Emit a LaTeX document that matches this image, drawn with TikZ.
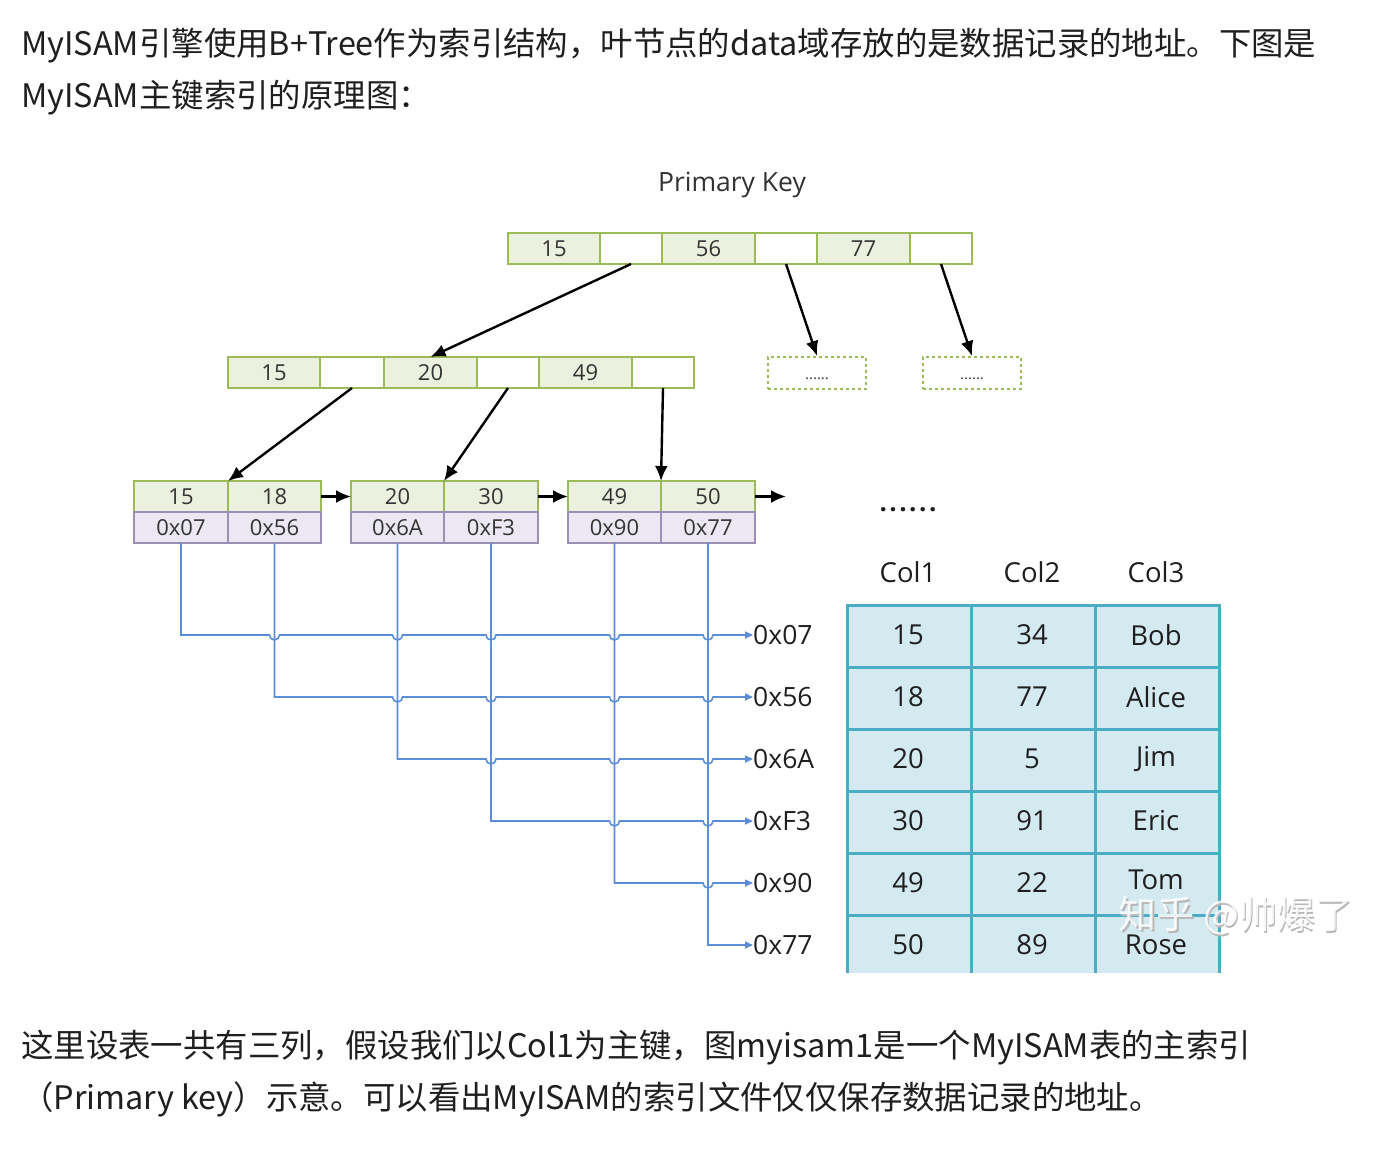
\documentclass[tikz,border=0pt]{standalone}
\usepackage{fontspec}
\newfontfamily\cjk{Noto Sans CJK SC}
\newfontfamily\lab{Open Sans}
\usetikzlibrary{arrows.meta}
\definecolor{gborder}{HTML}{9BBB59}
\definecolor{gfill}{HTML}{EBF1DE}
\definecolor{pborder}{HTML}{9C8FB5}
\definecolor{pfill}{HTML}{ECE8F3}
\definecolor{tblfill}{HTML}{D4EAF1}
\definecolor{tblline}{HTML}{4BACC6}
\definecolor{bline}{HTML}{5B8ED6}
\definecolor{txt}{HTML}{333333}
\definecolor{body}{HTML}{1F1F1F}
\tikzset{
  cellbase/.style={draw, line width=2pt, inner sep=0pt, outer sep=0pt, minimum height=31pt, text=txt, font=\lab\fontsize{22}{22}\selectfont},
  gkey/.style={cellbase, draw=gborder, fill=gfill},
  gptr/.style={cellbase, draw=gborder, fill=white},
  paddr/.style={cellbase, draw=pborder, fill=pfill},
  dbox/.style={draw=gborder, dashed, line width=2pt, inner sep=0pt, minimum width=98pt, minimum height=32pt, text=txt},
  tarrow/.style={line width=2.4pt, -{Latex[length=15pt,width=13pt]}},
  bl/.style={draw=bline, line width=1.6pt},
  blarrow/.style={bl, -{Triangle[length=8pt,width=7pt]}},
  addrlbl/.style={anchor=west, inner sep=0pt, text=body, font=\lab\fontsize{26.5}{26.5}\selectfont},
  tcell/.style={text=body, font=\lab\fontsize{27.5}{27.5}\selectfont},
  bodytext/.style={anchor=base west, inner sep=0pt, text=body, font=\cjk\fontsize{32.4}{32.4}\selectfont},
}
\begin{document}
\begin{tikzpicture}[x=1pt,y=-1pt]
\useasboundingbox (0,0) rectangle (1380,1151);
\fill[white] (0,0) rectangle (1380,1151);

% body text
\node[bodytext] (t1) at (21,55) {MyISAM引擎使用B+Tree作为索引结构，叶节点的data域存放的是数据记录的地址。下图是};
\node[bodytext] (t2) at (21,107) {MyISAM主键索引的原理图：};
\node[bodytext] (t3) at (21,1057) {这里设表一共有三列，假设我们以Col1为主键，图myisam1是一个MyISAM表的主索引};
\node[bodytext] (t4) at (21,1109) {（Primary key）示意。可以看出MyISAM的索引文件仅仅保存数据记录的地址。};

% title
\node[text=txt, font=\lab\fontsize{26.5}{26.5}\selectfont] (pk) at (732,185) {Primary Key};

% root
\node[gkey, minimum width=92pt] (r1) at (554,248.5) {15};
\node[gptr, minimum width=62pt] (r2) at (631,248.5) {};
\node[gkey, minimum width=93pt] (r3) at (708.5,248.5) {56};
\node[gptr, minimum width=62pt] (r4) at (786,248.5) {};
\node[gkey, minimum width=93pt] (r5) at (863.5,248.5) {77};
\node[gptr, minimum width=62pt] (r6) at (941,248.5) {};

% level 2
\node[gkey, minimum width=92pt] (l1) at (274,372.5) {15};
\node[gptr, minimum width=64pt] (l2) at (352,372.5) {};
\node[gkey, minimum width=93pt] (l3) at (430.5,372.5) {20};
\node[gptr, minimum width=62pt] (l4) at (508,372.5) {};
\node[gkey, minimum width=93pt] (l5) at (585.5,372.5) {49};
\node[gptr, minimum width=62pt] (l6) at (663,372.5) {};

% dashed boxes
\node[dbox] (d1) at (817,373) {};
\node[dbox] (d2) at (972,373) {};
\node[text=txt, font=\lab\fontsize{15}{15}\selectfont] (d1t) at (817,379) {......};
\node[text=txt, font=\lab\fontsize{15}{15}\selectfont] (d2t) at (972,379) {......};

% leaves
\node[gkey, minimum width=94pt] (k1) at (181,496.5) {15};
\node[gkey, minimum width=93pt] (k2) at (274.5,496.5) {18};
\node[paddr, minimum width=94pt] (a1) at (181,527.5) {0x07};
\node[paddr, minimum width=93pt] (a2) at (274.5,527.5) {0x56};
\node[gkey, minimum width=93pt] (k3) at (397.5,496.5) {20};
\node[gkey, minimum width=94pt] (k4) at (491,496.5) {30};
\node[paddr, minimum width=93pt] (a3) at (397.5,527.5) {0x6A};
\node[paddr, minimum width=94pt] (a4) at (491,527.5) {0xF3};
\node[gkey, minimum width=93pt] (k5) at (614.5,496.5) {49};
\node[gkey, minimum width=94pt] (k6) at (708,496.5) {50};
\node[paddr, minimum width=93pt] (a5) at (614.5,527.5) {0x90};
\node[paddr, minimum width=94pt] (a6) at (708,527.5) {0x77};
\coordinate (nx) at (786,496.5);

% tree arrows
\draw[tarrow] (r2.south) -- (l3.north);
\draw[tarrow] (r4.south) -- (d1.north);
\draw[tarrow] (r6.south) -- (d2.north);
\draw[tarrow] (l2.south) -- (k2.north west);
\draw[tarrow] (l4.south) -- (k4.north west);
\draw[tarrow] (l6.south) -- (k6.north west);
\draw[tarrow] (k2.east) -- (k3.west);
\draw[tarrow] (k4.east) -- (k5.west);
\draw[tarrow] (k6.east) -- (nx);

% dots
\node[text=body, font=\lab\bfseries\fontsize{26}{26}\selectfont] (dots) at (908,510) {.\kern2.5pt.\kern2.5pt.\kern2.5pt.\kern2.5pt.\kern2.5pt.};

% address labels
\node[addrlbl] (h1) at (753,635) {0x07};
\node[addrlbl] (h2) at (753,697) {0x56};
\node[addrlbl] (h3) at (753,759) {0x6A};
\node[addrlbl] (h4) at (753,821) {0xF3};
\node[addrlbl] (h5) at (753,883) {0x90};
\node[addrlbl] (h6) at (753,945) {0x77};

% blue pointer lines with hops
\draw[blarrow] (a1.south) -- (181,635) -- (269.5,635) arc[start angle=180,end angle=360,radius=5pt]
  -- (392.5,635) arc[start angle=180,end angle=360,radius=5pt]
  -- (486,635) arc[start angle=180,end angle=360,radius=5pt]
  -- (609.5,635) arc[start angle=180,end angle=360,radius=5pt]
  -- (703,635) arc[start angle=180,end angle=360,radius=5pt]
  -- (h1.west);
\draw[blarrow] (a2.south) -- (274.5,697)
  -- (392.5,697) arc[start angle=180,end angle=360,radius=5pt]
  -- (486,697) arc[start angle=180,end angle=360,radius=5pt]
  -- (609.5,697) arc[start angle=180,end angle=360,radius=5pt]
  -- (703,697) arc[start angle=180,end angle=360,radius=5pt]
  -- (h2.west);
\draw[blarrow] (a3.south) -- (397.5,759)
  -- (486,759) arc[start angle=180,end angle=360,radius=5pt]
  -- (609.5,759) arc[start angle=180,end angle=360,radius=5pt]
  -- (703,759) arc[start angle=180,end angle=360,radius=5pt]
  -- (h3.west);
\draw[blarrow] (a4.south) -- (491,821)
  -- (609.5,821) arc[start angle=180,end angle=360,radius=5pt]
  -- (703,821) arc[start angle=180,end angle=360,radius=5pt]
  -- (h4.west);
\draw[blarrow] (a5.south) -- (614.5,883)
  -- (703,883) arc[start angle=180,end angle=360,radius=5pt]
  -- (h5.west);
\draw[blarrow] (a6.south) -- (708,945) -- (h6.west);

% column headers
\node[tcell] (c1) at (908,572) {Col1};
\node[tcell] (c2) at (1032,572) {Col2};
\node[tcell] (c3) at (1156,572) {Col3};

% table
\fill[tblfill] (847,605) rectangle (1219,973);
\draw[tblline, line width=3pt] (847,973) -- (847,605) -- (1219,605) -- (1219,973);
\foreach \yy in {667,729,791,853,915} \draw[tblline, line width=3pt] (847,\yy) -- (1219,\yy);
\foreach \xx in {971,1095} \draw[tblline, line width=3pt] (\xx,605) -- (\xx,973);

\node[tcell] (v11) at (908,635) {15};  \node[tcell] (v12) at (1032,635) {34};  \node[tcell] (v13) at (1156,635) {Bob};
\node[tcell] (v21) at (908,697) {18};  \node[tcell] (v22) at (1032,697) {77};  \node[tcell] (v23) at (1156,697) {Alice};
\node[tcell] (v31) at (908,759) {20};  \node[tcell] (v32) at (1032,759) {5};   \node[tcell] (v33) at (1156,759) {Jim};
\node[tcell] (v41) at (908,821) {30};  \node[tcell] (v42) at (1032,821) {91};  \node[tcell] (v43) at (1156,821) {Eric};
\node[tcell] (v51) at (908,883) {49};  \node[tcell] (v52) at (1032,883) {22};  \node[tcell] (v53) at (1156,880) {Tom};
\node[tcell] (v61) at (908,945) {50};  \node[tcell] (v62) at (1032,945) {89};  \node[tcell] (v63) at (1156,945) {Rose};

% watermark
\node[text=gray!55, font=\cjk\fontsize{38}{38}\selectfont] (wm0) at (1237.5,917.5) {知乎 @帅爆了};
\node[text=white, opacity=0.85, font=\cjk\fontsize{38}{38}\selectfont] (wm) at (1236,916) {知乎 @帅爆了};
\end{tikzpicture}
\end{document}
